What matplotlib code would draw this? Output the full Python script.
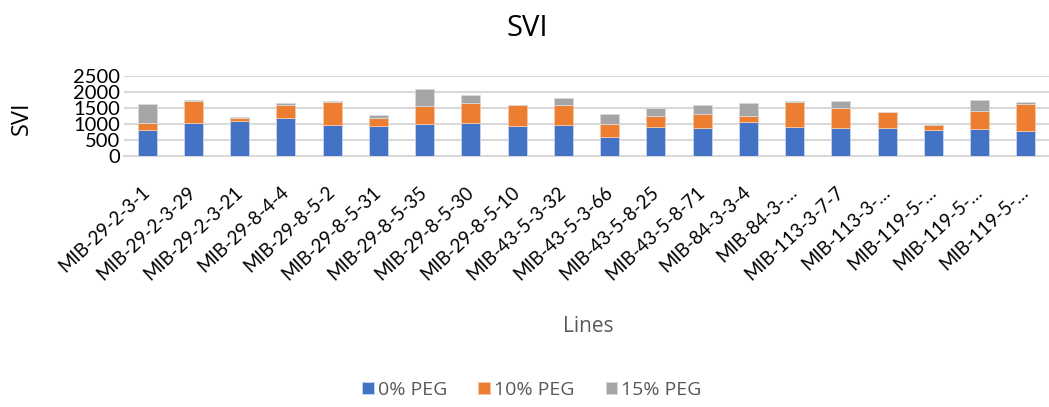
import matplotlib
matplotlib.use("Agg")
import matplotlib.pyplot as plt
import numpy as np

categories = ["MIB-29-2-3-1", "MIB-29-2-3-29", "MIB-29-2-3-21", "MIB-29-8-4-4", "MIB-29-8-5-2",
              "MIB-29-8-5-31", "MIB-29-8-5-35", "MIB-29-8-5-30", "MIB-29-8-5-10", "MIB-43-5-3-32",
              "MIB-43-5-3-66", "MIB-43-5-8-25", "MIB-43-5-8-71", "MIB-84-3-3-4", "MIB-84-3-…",
              "MIB-113-3-7-7", "MIB-113-3-…", "MIB-119-5-…", "MIB-119-5-…", "MIB-119-5-…"]
peg0 = [816, 1046, 1098, 1192, 973, 941, 1015, 1035, 941, 973,
        596, 910, 879, 1056, 910, 889, 889, 816, 847, 785]
peg10 = [230, 680, 105, 408, 711, 251, 533, 607, 659, 627,
         398, 345, 449, 199, 784, 617, 471, 157, 544, 847]
peg15 = [575, 31, 10, 53, 21, 84, 533, 272, 0, 210,
         303, 241, 272, 408, 21, 220, 10, 21, 345, 62]
series_names = ["0% PEG", "10% PEG", "15% PEG"]
colors = ["#4472C4", "#ED7D31", "#A5A5A5"]
yticks = [0, 500, 1000, 1500, 2000, 2500]

fig = plt.figure(figsize=(10.49, 4.07), dpi=100)
ax = fig.add_axes([124/1049, 1-156/407, 925/1049, 80/407])

x = np.arange(len(categories))
b0 = np.array(peg0); b1 = np.array(peg10); b2 = np.array(peg15)
w = 0.41
ax.bar(x, b0, w, color=colors[0], label=series_names[0], edgecolor="#c9d6ee", linewidth=0.6, zorder=3)
ax.bar(x, b1, w, bottom=b0, color=colors[1], label=series_names[1], edgecolor="#f7c7a5", linewidth=0.6, zorder=3)
ax.bar(x, b2, w, bottom=b0+b1, color=colors[2], label=series_names[2], edgecolor="#dadada", linewidth=0.6, zorder=3)

ax.set_xlim(-0.5, len(categories)-0.5)
ax.set_ylim(0, 2500)
ax.set_yticks(yticks)
ax.set_yticklabels([str(t) for t in yticks], fontfamily="Lato", fontsize=14.5)
ax.yaxis.grid(True, color="#d9d9d9", linewidth=1.5, zorder=0)
for s in ["top", "right", "left"]:
    ax.spines[s].set_visible(False)
ax.spines["bottom"].set_color("#d9d9d9")
ax.spines["bottom"].set_linewidth(1.5)
ax.tick_params(axis="both", length=0)
ax.tick_params(axis="y", pad=3)
ax.set_xticks(x)
ax.set_xticklabels(categories, rotation=43, ha="right", va="center", rotation_mode="anchor",
                   fontfamily="Lato", fontsize=13.5)
ax.tick_params(axis="x", pad=24)

fig.text(527/1049, 1-28/407, "SVI", ha="center", va="center", fontsize=21, fontfamily="Open Sans", color="#000000")
fig.text(22/1049, 1-118/407, "SVI", ha="center", va="center", rotation=90, fontsize=17, fontfamily="Open Sans", color="#000000")
fig.text(588/1049, 1-327/407, "Lines", ha="center", va="center", fontsize=15, fontfamily="Open Sans", color="#595959")

leg = fig.legend(loc="center", bbox_to_anchor=(532/1049, 1-390/407), ncol=3, frameon=False,
                 prop={"family": "Open Sans", "size": 14}, handlelength=0.6, handleheight=0.6,
                 handletextpad=0.2, columnspacing=1.6)
for t in leg.get_texts():
    t.set_color("#595959")

fig.savefig("out.png", dpi=100)
